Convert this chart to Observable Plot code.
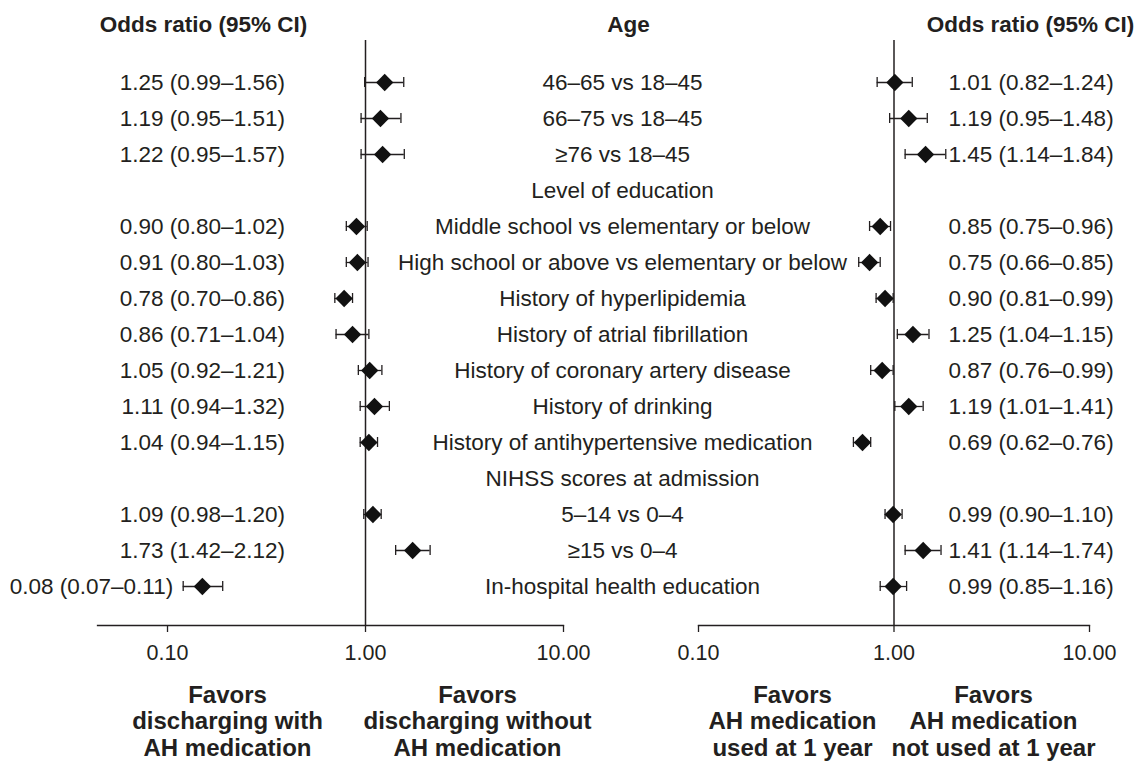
<!DOCTYPE html>
<html>
<head>
<meta charset="utf-8">
<script src="https://cdn.jsdelivr.net/npm/d3@7"></script>
<script src="https://cdn.jsdelivr.net/npm/@observablehq/plot@0.6"></script>
<style>
  html, body { margin: 0; padding: 0; background: #fff; }
  #chart { position: relative; width: 1141px; height: 764px; }
  #chart svg { position: absolute; top: 0; left: 0; }
</style>
</head>
<body>
<div id="chart"></div>
<script>
// ---- Data ----
const rowLabels = [
  "46–65 vs 18–45",
  "66–75 vs 18–45",
  "≥76 vs 18–45",
  "Level of education",
  "Middle school vs elementary or below",
  "High school or above vs elementary or below",
  "History of hyperlipidemia",
  "History of atrial fibrillation",
  "History of coronary artery disease",
  "History of drinking",
  "History of antihypertensive medication",
  "NIHSS scores at admission",
  "5–14 vs 0–4",
  "≥15 vs 0–4",
  "In-hospital health education"
];

// Left panel: discharging with vs without AH medication (plotted values)
const leftOR = [1.25, 1.19, 1.22, null, 0.90, 0.91, 0.78, 0.86, 1.05, 1.11, 1.04, null, 1.09, 1.73, 0.15];
const leftLo = [0.99, 0.95, 0.95, null, 0.80, 0.80, 0.70, 0.71, 0.92, 0.94, 0.94, null, 0.98, 1.42, 0.12];
const leftHi = [1.56, 1.51, 1.57, null, 1.02, 1.03, 0.86, 1.04, 1.21, 1.32, 1.15, null, 1.20, 2.12, 0.19];
const leftText = [
  "1.25 (0.99–1.56)", "1.19 (0.95–1.51)", "1.22 (0.95–1.57)", null,
  "0.90 (0.80–1.02)", "0.91 (0.80–1.03)", "0.78 (0.70–0.86)", "0.86 (0.71–1.04)",
  "1.05 (0.92–1.21)", "1.11 (0.94–1.32)", "1.04 (0.94–1.15)", null,
  "1.09 (0.98–1.20)", "1.73 (1.42–2.12)", "0.08 (0.07–0.11)"
];

// Right panel: AH medication used at 1 year (plotted values)
const rightOR = [1.01, 1.19, 1.45, null, 0.85, 0.75, 0.90, 1.25, 0.87, 1.19, 0.69, null, 0.99, 1.41, 0.99];
const rightLo = [0.82, 0.95, 1.14, null, 0.75, 0.66, 0.81, 1.04, 0.76, 1.01, 0.62, null, 0.90, 1.14, 0.85];
const rightHi = [1.24, 1.48, 1.84, null, 0.96, 0.85, 0.99, 1.51, 0.99, 1.41, 0.76, null, 1.10, 1.74, 1.16];
const rightText = [
  "1.01 (0.82–1.24)", "1.19 (0.95–1.48)", "1.45 (1.14–1.84)", null,
  "0.85 (0.75–0.96)", "0.75 (0.66–0.85)", "0.90 (0.81–0.99)", "1.25 (1.04–1.15)",
  "0.87 (0.76–0.99)", "1.19 (1.01–1.41)", "0.69 (0.62–0.76)", null,
  "0.99 (0.90–1.10)", "1.41 (1.14–1.74)", "0.99 (0.85–1.16)"
];

const xTicks = [0.1, 1, 10];
const headerLeft = "Odds ratio (95% CI)";
const headerMid = "Age";
const headerRight = "Odds ratio (95% CI)";
const bottomLabels = [
  "Favors\ndischarging with\nAH medication",
  "Favors\ndischarging without\nAH medication",
  "Favors\nAH medication\nused at 1 year",
  "Favors\nAH medication\nnot used at 1 year"
];

// ---- Build tables ----
const makeRows = (or, lo, hi, txt) =>
  rowLabels.map((label, i) => ({label, or: or[i], lo: lo[i], hi: hi[i], txt: txt[i]}))
           .filter(d => d.or != null);
const leftData = makeRows(leftOR, leftLo, leftHi, leftText);
const rightData = makeRows(rightOR, rightLo, rightHi, rightText);

// ---- Shared layout ----
const W = 1141, H = 764;
const ink = "#231f20";
const font = "'Liberation Sans', Arial, Helvetica, sans-serif";
const FS = 22.5;
const yScale = () => ({
  type: "band", domain: rowLabels, range: [59.2, 607.8],
  paddingInner: 0.73, paddingOuter: 0.365, axis: null
});
const baseStyle = {background: "transparent", fontFamily: font, color: ink, overflow: "visible"};

function panel({marginLeft, marginRight, domain, data, withLabels}) {
  const marks = [
    Plot.frame({anchor: "bottom", stroke: ink, strokeWidth: 1.3}),
    Plot.ruleX([1], {stroke: ink, strokeWidth: 1.5}),
    Plot.axisX({ticks: xTicks, tickFormat: d3.format(".2f"), tickSize: 7, tickPadding: 12,
                fontSize: 21.5, label: null, anchor: "bottom", stroke: ink, strokeWidth: 1.3}),
    Plot.ruleY(data, {y: "label", x1: "lo", x2: "hi", stroke: ink, strokeWidth: 1.3}),
    Plot.tickX(data, {x: "lo", y: "label", stroke: ink, strokeWidth: 1.3}),
    Plot.tickX(data, {x: "hi", y: "label", stroke: ink, strokeWidth: 1.3}),
    Plot.dot(data, {x: "or", y: "label", symbol: "diamond2", r: 7.8, fill: "#111", stroke: null})
  ];
  if (withLabels) {
    marks.push(Plot.text(data, {x: d => Math.min(0.44, d.lo), y: "label", text: "txt",
      textAnchor: "end", dx: -10, fontSize: FS, fill: ink}));
  }
  return Plot.plot({
    width: W, height: H,
    marginLeft, marginRight, marginTop: 40, marginBottom: 139,
    x: {type: "log", domain},
    y: yScale(),
    style: baseStyle,
    marks
  });
}

const leftPlot = panel({marginLeft: 97, marginRight: 578, domain: [0.0443, 10], data: leftData, withLabels: true});
const rightPlot = panel({marginLeft: 698, marginRight: 52, domain: [0.1, 10], data: rightData, withLabels: false});

// bottom labels: one text mark per line (no multi-line tspans)
const bottomX = [227, 477, 792, 993];
const bottomLines = bottomLabels.map(s => s.split("\n"));
const bottomMarks = [0, 1, 2].map(k =>
  Plot.text(bottomLines, {x: (d, i) => bottomX[i], text: d => d[k], frameAnchor: "top", lineAnchor: "top",
    dy: 685 + k * 26.9, fontWeight: "bold", fontSize: 24, fill: ink}));

const textPlot = Plot.plot({
  width: W, height: H,
  marginLeft: 0, marginRight: 0, marginTop: 0, marginBottom: 0,
  x: {type: "identity"},
  y: yScale(),
  style: baseStyle,
  marks: [
    Plot.text([headerLeft], {x: () => 203, frameAnchor: "top", lineAnchor: "middle", dy: 24, fontWeight: "bold", fontSize: FS, fill: ink}),
    Plot.text([headerMid], {x: () => 628, frameAnchor: "top", lineAnchor: "middle", dy: 24, fontWeight: "bold", fontSize: FS, fill: ink}),
    Plot.text([headerRight], {x: () => 1030, frameAnchor: "top", lineAnchor: "middle", dy: 24, fontWeight: "bold", fontSize: FS, fill: ink}),
    Plot.text(rowLabels, {x: () => 622, y: d => d, text: d => d, fontSize: FS, fill: ink}),
    Plot.text(rightData, {x: () => 948, y: "label", text: "txt", textAnchor: "start", fontSize: FS, fill: ink}),
    ...bottomMarks
  ]
});

const chart = document.getElementById("chart");
chart.append(leftPlot, rightPlot, textPlot);
</script>
</body>
</html>
